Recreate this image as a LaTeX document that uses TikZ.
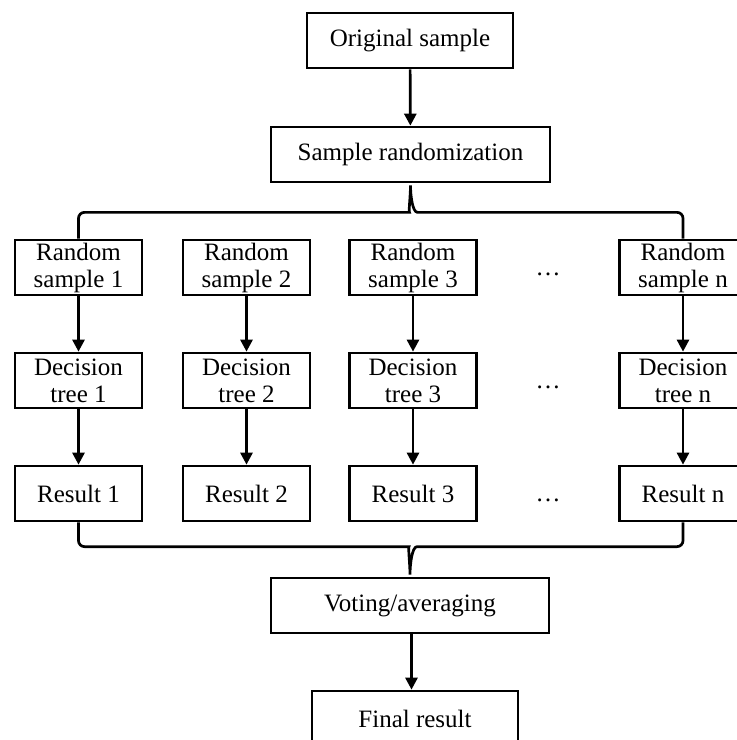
\documentclass[tikz,border=0pt]{standalone}
\usepackage{fontspec}
\setmainfont{Liberation Serif}
\usetikzlibrary{arrows.meta,calc}

\begin{document}
\begin{tikzpicture}[x=1pt, y=-1pt,
    every node/.style={font=\fontsize{25}{27}\selectfont},
    box/.style={draw, line width=2.7pt, align=center, inner sep=0pt, minimum height=55pt},
    smallbox/.style={box, minimum width=127pt},
    link/.style={line width=2.7pt},
    arr/.style={link, -{Triangle[length=12pt, width=12pt]}}]

  \useasboundingbox (0,0) rectangle (737,740);
  \clip (0,0) rectangle (737,740);

  %% Top: original sample and randomization
  \node[box, minimum width=206pt] (orig) at (410,40.5) {Original sample};
  \node[box, minimum width=279pt] (rand) at (410.5,154.5) {Sample randomization};
  \draw[arr] (orig) -- (rand);

  %% Columns: random sample -> decision tree -> result
  \foreach \i/\x in {1/78.5, 2/246.5, 3/413, n/683} {
    \node[smallbox] (rs\i) at (\x,267.5) {Random\\sample \i};
    \node[smallbox] (dt\i) at (\x,380.5) {Decision\\tree \i};
    \node[smallbox] (res\i) at (\x,493.5) {Result \i};
    \draw[arr] (rs\i) -- (dt\i);
    \draw[arr] (dt\i) -- (res\i);
  }

  % dots between column 3 and column n
  \foreach \y/\r in {275/1, 388/2, 501/3}
    \node[anchor=base] (dots\r) at (548,\y) {\dots};

  %% Brace from randomization to the samples
  \draw[link] (rs1.north) [rounded corners=6pt] |- ($(rand.south)+(-7,29)$)
    [sharp corners] .. controls +(5,0) and +(0,10) .. ($(rand.south)+(0,2)$)
    .. controls +(0,10) and +(-5,0) .. ($(rand.south)+(7,29)$)
    [rounded corners=6pt] -| (rsn.north);

  %% Bottom: voting and final result
  \node[box, minimum width=278pt] (vote) at (410,605.5) {Voting/averaging};
  \node[box, minimum width=206pt] (final) at (415,718.5) {Final result};

  % brace from the results to voting
  \draw[link] (res1.south) [rounded corners=6pt] |- ($(vote.north)+(-7,-30)$)
    [sharp corners] .. controls +(5,0) and +(0,-10) .. ($(vote.north)+(0,-2)$)
    .. controls +(0,-10) and +(-5,0) .. ($(vote.north)+(7,-30)$)
    [rounded corners=6pt] -| (resn.south);

  \coordinate (voteout) at ($(vote.south)+(1.5,0)$);
  \draw[arr] (voteout) -- (voteout |- final.north);

\end{tikzpicture}
\end{document}
